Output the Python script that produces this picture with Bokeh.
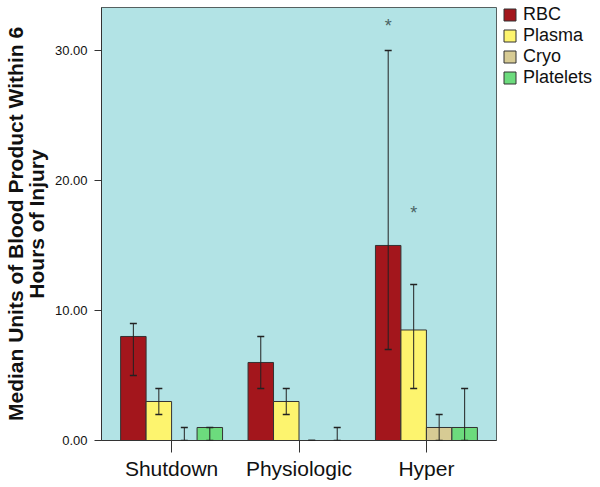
from bokeh.plotting import figure
from bokeh.models import (ColumnDataSource, FactorRange, Range1d, Whisker, TeeHead,
                          Legend, LegendItem, FixedTicker, NumeralTickFormatter)
from bokeh.transform import dodge
from bokeh.core.properties import value
from bokeh.embed import file_html
from bokeh.resources import INLINE

# ---- data ----
groups = ["Shutdown", "Physiologic", "Hyper"]
products = ["RBC", "Plasma", "Cryo", "Platelets"]

rbc = [8, 6, 15]
rbc_lo = [5, 4, 7]
rbc_hi = [9, 8, 30]

plasma = [3, 3, 8.5]
plasma_lo = [2, 2, 4]
plasma_hi = [4, 4, 12]

cryo = [0, 0, 1]
cryo_lo = [0, 0, 0]
cryo_hi = [1, 0, 2]

platelets = [1, 0, 1]
platelets_lo = [0, 0, 0]
platelets_hi = [1, 1, 4]

star_group = ["Hyper", "Hyper"]
star_product = ["RBC", "Plasma"]
star_y = [31.9, 17.5]

y_ticks = [0, 10, 20, 30]
y_max = 33.3

# ---- styling ----
colors = ["#a3161c", "#fdf46e", "#d7cb94", "#6cdb7d"]
offsets = [-0.3, -0.1, 0.1, 0.3]
bar_w = 0.2
FONT = "Liberation Sans"

series = {
    "RBC": (rbc, rbc_lo, rbc_hi),
    "Plasma": (plasma, plasma_lo, plasma_hi),
    "Cryo": (cryo, cryo_lo, cryo_hi),
    "Platelets": (platelets, platelets_lo, platelets_hi),
}

p = figure(x_range=FactorRange(*groups, range_padding=0.05, range_padding_units="absolute"),
           y_range=Range1d(0, y_max),
           frame_width=395, frame_height=433, output_backend="svg", toolbar_location=None,
           min_border_left=93, min_border_right=0, min_border_top=7, min_border_bottom=38)

p.background_fill_color = "#b2e3e5"
p.border_fill_color = "white"
p.outline_line_color = "#556060"
p.outline_line_width = 1
p.xgrid.visible = False
p.ygrid.visible = False

legend_items = []
for name, color, off in zip(products, colors, offsets):
    vals, lo, hi = series[name]
    src = ColumnDataSource(dict(group=groups, top=vals, lo=lo, hi=hi))
    r = p.vbar(x=dodge("group", off, range=p.x_range), top="top", width=bar_w,
               source=src, fill_color=color, line_color="#333333", line_width=1)
    legend_items.append(LegendItem(label=name, renderers=[r]))
    w = Whisker(source=src, base=dodge("group", off, range=p.x_range), upper="hi", lower="lo",
                line_color="#222222", line_width=1, level="overlay",
                upper_head=TeeHead(size=7, line_color="#222222", line_width=1.5),
                lower_head=TeeHead(size=7, line_color="#222222", line_width=1.5))
    p.add_layout(w)

    sg = [g for g, pr in zip(star_group, star_product) if pr == name]
    sy = [y for y, pr in zip(star_y, star_product) if pr == name]
    if sg:
        ssrc = ColumnDataSource(dict(group=sg, y=sy))
        p.text(x=dodge("group", off, range=p.x_range), y="y", text=value("*"), source=ssrc,
               text_font=value(FONT), text_font_size="18px", text_color="#4a6464",
               text_align="center", text_baseline="middle")

legend = Legend(items=legend_items, location=(6, 352), orientation="vertical")
legend.background_fill_alpha = 0
legend.border_line_alpha = 0
legend.padding = 0
legend.margin = 4
legend.spacing = -2
legend.glyph_width = 15
legend.glyph_height = 15
legend.label_standoff = 6
legend.label_height = 15
legend.label_text_font = FONT
legend.label_text_font_size = "18px"
legend.label_text_color = "#111111"
legend.label_text_baseline = "middle"
p.add_layout(legend, "right")

# y axis
ya = p.yaxis[0]
ya.ticker = FixedTicker(ticks=y_ticks)
ya.formatter = NumeralTickFormatter(format="0.00")
ya.minor_tick_line_color = None
ya.major_tick_out = 7
ya.major_tick_in = 0
ya.major_label_standoff = 7
ya.major_label_text_font = FONT
ya.major_label_text_font_size = "13px"
ya.major_label_text_color = "#111111"
ya.axis_line_color = "#333333"
ya.major_tick_line_color = "#333333"
ya.axis_label = "Median Units of Blood Product Within 6\nHours of Injury"
ya.axis_label_text_font = FONT
ya.axis_label_text_font_style = "bold"
ya.axis_label_text_font_size = "21px"
ya.axis_label_text_color = "#111111"
ya.axis_label_text_line_height = 0.93
ya.axis_label_standoff = 4

# x axis
xa = p.xaxis[0]
xa.major_tick_out = 12
xa.major_tick_in = 0
xa.major_label_standoff = 4
xa.major_label_text_font = FONT
xa.major_label_text_font_size = "21px"
xa.major_label_text_color = "#111111"
xa.axis_line_color = "#333333"
xa.major_tick_line_color = "#333333"

open("out.html", "w").write(file_html(p, INLINE))
